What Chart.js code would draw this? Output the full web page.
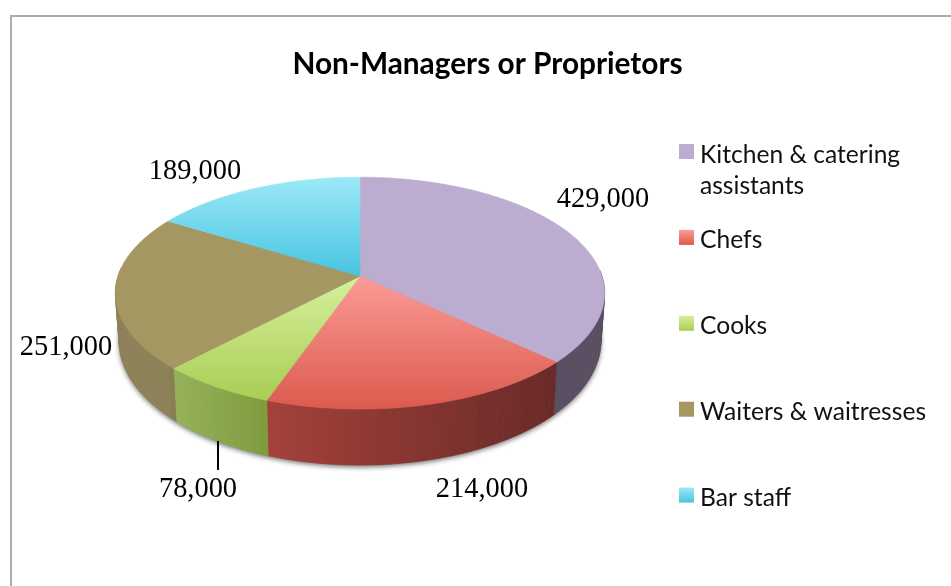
<!DOCTYPE html>
<html>
<head>
<meta charset="utf-8">
<title>Non-Managers or Proprietors</title>
<script src="https://cdn.jsdelivr.net/npm/chart.js@4"></script>
<style>
  html, body { margin: 0; background: #fff; overflow: hidden; }
  #frame { position: absolute; left: 10px; top: 15px; width: 951px; height: 586px; border-left: 2px solid #acacac; border-top: 2px solid #acacac; }
  #chart { position: absolute; left: 0; top: 0; }
</style>
</head>
<body>
<div id="frame"></div>
<canvas id="chart" width="951" height="586"></canvas>
<script>
const categories = ['Kitchen & catering assistants', 'Chefs', 'Cooks', 'Waiters & waitresses', 'Bar staff']
const values = [429000, 214000, 78000, 251000, 189000]
const legendLines = [['Kitchen & catering', 'assistants'], ['Chefs'], ['Cooks'], ['Waiters & waitresses'], ['Bar staff']]

// top face gradient, light to dark
const faceLight = ['#bcacd0', '#fa9c96', '#d6f09e', '#a49762', '#9ce8f8']
const faceDark = ['#bcacd0', '#dc5a4e', '#a9cd54', '#a49762', '#48c4e0']
// side wall colours, left to right
const sideLeft = ['#5f5368', '#a4423a', '#96b35b', '#8e8259', '#3a9ab0']
const sideRight = ['#5a4f62', '#6b2a28', '#7f9d3e', '#8a7e55', '#3a9ab0']

// where the data labels sit, same order as values
const labelSpots = [[603, 200], [482, 490], [198, 490], [66, 348], [195, 172]]

const rimX = 242, rimY = 113.5, persp = 0.1466

function project(arc, a) {
  const u = Math.cos(a), v = Math.sin(a), w = 1 - persp * v
  return [arc.x + rimX * u / w, arc.y + rimY * v / w]
}

function dropped(arc, p, a) {
  const v = Math.sin(a)
  return [arc.x + (p[0] - arc.x) * 0.985, p[1] + 46 + 10 * v]
}

function mix(c1, c2, t) {
  const a = parseInt(c1.slice(1), 16), b = parseInt(c2.slice(1), 16)
  const ch = s => Math.round(((a >> s) & 255) * (1 - t) + ((b >> s) & 255) * t)
  return `rgb(${ch(16)},${ch(8)},${ch(0)})`
}

const pie3d = {
  id: 'pie3d',
  afterLayout(chart) {
    // title is centred over the whole box, not over the pie
    chart.titleBlock.left = 24
    chart.titleBlock.right = 951
  },
  beforeDatasetDraw(chart) {
    const ctx = chart.ctx
    const arcs = chart.getDatasetMeta(0).data

    // soft shadow under the pie
    ctx.save()
    ctx.shadowColor = 'rgba(0,0,0,0.55)'
    ctx.shadowBlur = 5
    ctx.shadowOffsetY = 2
    ctx.fillStyle = '#888'
    ctx.beginPath()
    for (let i = 0; i <= 180; i++) {
      const a = i / 180 * Math.PI * 2
      const p = dropped(arcs[0], project(arcs[0], a), a)
      i ? ctx.lineTo(p[0], p[1]) : ctx.moveTo(p[0], p[1])
    }
    ctx.closePath()
    ctx.fill()
    ctx.restore()

    // side walls in thin strips, back of the pie is hidden anyway
    arcs.forEach((arc, i) => {
      const n = Math.ceil((arc.endAngle - arc.startAngle) / 0.03)
      const x0 = project(arc, arc.startAngle)[0], x1 = project(arc, arc.endAngle)[0]
      const minX = Math.min(x0, x1), maxX = Math.max(x0, x1)
      for (let s = 0; s < n; s++) {
        const a0 = arc.startAngle + (arc.endAngle - arc.startAngle) * s / n
        const a1 = arc.startAngle + (arc.endAngle - arc.startAngle) * (s + 1) / n
        if (Math.sin(a0) < -0.05 && Math.sin(a1) < -0.05) continue
        const p0 = project(arc, a0), p1 = project(arc, a1)
        const q0 = dropped(arc, p0, a0), q1 = dropped(arc, p1, a1)
        const t = maxX > minX ? (p0[0] - minX) / (maxX - minX) : 0
        const col = mix(sideLeft[i], sideRight[i], Math.min(1, Math.max(0, t)))
        ctx.fillStyle = col
        ctx.strokeStyle = col
        ctx.lineWidth = 0.6
        ctx.beginPath()
        ctx.moveTo(p0[0], p0[1])
        ctx.lineTo(p1[0], p1[1])
        ctx.lineTo(q1[0], q1[1])
        ctx.lineTo(q0[0], q0[1])
        ctx.closePath()
        ctx.fill()
        ctx.stroke()
      }
    })

    // top faces, taken from the arc angles the library worked out
    arcs.forEach((arc, i) => {
      const pts = []
      const n = Math.ceil((arc.endAngle - arc.startAngle) / 0.01)
      for (let s = 0; s <= n; s++) {
        pts.push(project(arc, arc.startAngle + (arc.endAngle - arc.startAngle) * s / n))
      }
      const ys = pts.map(p => p[1]).concat(arc.y)
      const grad = ctx.createLinearGradient(0, Math.min(...ys), 0, Math.max(...ys))
      grad.addColorStop(0, faceLight[i])
      grad.addColorStop(1, faceDark[i])
      ctx.fillStyle = grad
      ctx.strokeStyle = grad
      ctx.lineWidth = 0.5
      ctx.beginPath()
      ctx.moveTo(arc.x, arc.y)
      pts.forEach(p => ctx.lineTo(p[0], p[1]))
      ctx.closePath()
      ctx.fill()
      ctx.stroke()
    })
    return false
  },
  afterDatasetsDraw(chart) {
    const ctx = chart.ctx
    ctx.save()

    // data labels
    ctx.font = '28.4px "Liberation Serif"'
    ctx.fillStyle = '#000'
    ctx.textAlign = 'center'
    ctx.textBaseline = 'middle'
    values.forEach((v, i) => {
      ctx.fillText(v.toLocaleString('en-US'), labelSpots[i][0], labelSpots[i][1])
    })

    // leader line for the small slice
    ctx.strokeStyle = '#000'
    ctx.lineWidth = 2
    ctx.beginPath()
    ctx.moveTo(218, 441)
    ctx.lineTo(218, 470)
    ctx.stroke()

    // legend, one row every 86px whatever the number of lines
    ctx.font = '24.6px Lato'
    ctx.textAlign = 'left'
    legendLines.forEach((lines, i) => {
      const top = 144 + i * 85.9
      const grad = ctx.createLinearGradient(0, top, 0, top + 15)
      grad.addColorStop(0, faceLight[i])
      grad.addColorStop(1, faceDark[i])
      ctx.fillStyle = grad
      ctx.fillRect(679, top, 15, 15)
      ctx.fillStyle = '#111'
      lines.forEach((line, j) => ctx.fillText(line, 700, top + 10.5 + (i === 0 ? 1 : 0) + j * 31))
    })
    ctx.restore()
  }
}

new Chart(document.getElementById('chart'), {
  type: 'pie',
  data: {
    labels: categories,
    datasets: [{
      data: values,
      backgroundColor: faceLight,
      borderWidth: 0
    }]
  },
  options: {
    responsive: false,
    animation: false,
    layout: { padding: { left: 24, right: 255, top: 0, bottom: 126 } },
    plugins: {
      legend: { display: false },
      tooltip: { enabled: false },
      title: {
        display: true,
        text: 'Non-Managers or Proprietors',
        color: '#000',
        font: { family: 'Lato', size: 29.8, weight: 'bold' },
        padding: { top: 46.5, bottom: 10 }
      }
    }
  },
  plugins: [pie3d]
})
</script>
</body>
</html>
